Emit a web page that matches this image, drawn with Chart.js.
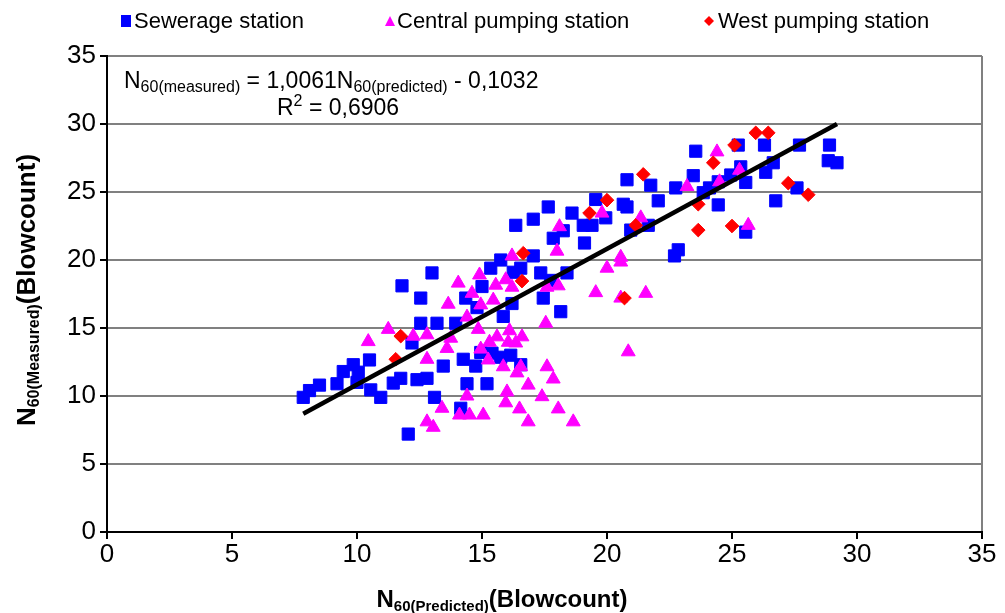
<!DOCTYPE html>
<html>
<head>
<meta charset="utf-8">
<script src="https://cdn.jsdelivr.net/npm/chart.js@4.4.0/dist/chart.umd.min.js"></script>
<style>
  html, body { margin: 0; padding: 0; background: #fff; }
</style>
</head>
<body>
<canvas id="grafico" width="1005" height="613"></canvas>
<script>
const sewerage = [
  [7.85, 9.9], [8.1, 10.4], [8.5, 10.8], [9.2, 10.9], [9.45, 11.8], [9.85, 12.3], [10.05, 11.75],
  [10.0, 11.0], [10.5, 12.65], [10.55, 10.45], [10.95, 9.9], [11.45, 10.95], [11.75, 11.3],
  [12.4, 11.2], [12.8, 11.3], [12.55, 15.35], [13.2, 15.35], [13.95, 15.35], [12.55, 17.2],
  [11.8, 18.1], [13.0, 19.05], [12.05, 7.2], [13.1, 9.9], [13.45, 12.2], [12.2, 13.9],
  [14.35, 17.2], [14.8, 16.5], [15.85, 15.85], [16.2, 16.8], [17.45, 17.2], [18.15, 16.2],
  [15.0, 18.05], [14.25, 12.7], [14.75, 12.2], [14.95, 13.2], [15.4, 13.15], [15.75, 12.85],
  [16.15, 13.0], [16.55, 12.3], [14.4, 10.9], [15.2, 10.9], [14.15, 9.1], [15.35, 19.4],
  [15.75, 20.0], [16.25, 19.1], [16.55, 19.4], [17.05, 20.3], [17.35, 19.05], [18.4, 19.05],
  [16.35, 22.55], [17.05, 23.0], [17.65, 23.9], [18.6, 23.45], [19.05, 22.55], [17.85, 21.6],
  [19.1, 21.25], [19.55, 24.45], [19.95, 23.1], [20.65, 24.1], [20.8, 23.9], [20.95, 22.2],
  [21.65, 22.55], [19.4, 22.55], [20.8, 25.9], [21.75, 25.5], [22.05, 24.35], [22.85, 20.75],
  [22.7, 20.3], [23.55, 28.0], [23.45, 26.2], [22.75, 25.3], [23.85, 24.95], [24.1, 25.3],
  [24.45, 25.75], [24.95, 26.25], [25.35, 26.85], [25.55, 25.7], [24.45, 24.05], [25.25, 28.45],
  [25.55, 22.05], [26.3, 28.45], [26.65, 27.15], [26.35, 26.45], [27.6, 25.3], [26.75, 24.35],
  [27.7, 28.45], [28.9, 28.45], [28.85, 27.3], [29.2, 27.15], [18.25, 22.15], [17.75, 18.5]
];

const central = [
  [10.45, 14.0], [11.25, 14.9], [12.25, 14.4], [12.8, 14.5], [12.8, 12.7], [13.4, 9.1],
  [12.8, 8.1], [13.05, 7.7], [14.9, 18.9], [14.05, 18.3], [14.6, 17.55], [13.65, 16.75],
  [14.95, 16.7], [15.45, 17.05], [14.4, 15.8], [14.85, 14.9], [13.6, 13.5], [14.4, 10.0],
  [14.1, 8.6], [14.5, 8.6], [15.05, 8.6], [15.3, 13.95], [16.1, 14.8], [17.55, 15.35],
  [13.75, 14.25], [15.6, 14.35], [16.05, 13.95], [16.6, 14.35], [16.35, 13.9], [14.95, 13.45],
  [15.25, 12.65], [15.85, 12.15], [16.55, 12.15], [16.4, 11.7], [17.6, 12.15], [17.85, 11.25],
  [16.85, 10.8], [16.0, 10.3], [15.95, 9.5], [17.4, 9.95], [16.5, 9.05], [18.05, 9.05],
  [16.85, 8.1], [18.65, 8.1], [19.55, 17.6], [18.1, 22.45], [18.0, 20.65], [16.2, 20.3],
  [15.55, 18.15], [15.95, 18.55], [16.2, 18.0], [17.6, 18.0], [18.05, 18.1], [24.4, 27.95],
  [25.3, 26.6], [24.5, 25.75], [23.2, 25.4], [25.65, 22.55], [21.35, 23.1], [19.8, 23.45],
  [20.55, 20.2], [20.55, 19.85], [20.0, 19.4], [20.55, 17.2], [21.55, 17.55], [20.85, 13.25]
];

const west = [
  [11.75, 14.4], [11.55, 12.7], [16.65, 20.5], [16.6, 18.45], [19.3, 23.45], [25.1, 28.45],
  [24.25, 27.15], [21.45, 26.3], [20.0, 24.4], [21.15, 22.55], [23.65, 24.1], [23.65, 22.2],
  [25.0, 22.5], [20.7, 17.2], [25.95, 29.35], [26.45, 29.35], [27.25, 25.65], [28.05, 24.8]
];

const tendencia = [[7.85, 8.7], [29.2, 30.0]];

const nomesSeries = ['Sewerage station', 'Central pumping station', 'West pumping station'];
const coresSeries = ['#0000ff', '#ff00ff', '#ff0000'];

const FONTE = '"Liberation Sans", Arial, sans-serif';

function paraPontos(lista) {
  return lista.map(p => ({ x: p[0], y: p[1] }));
}

function textoComIndice(ctx, partes, x, y, alinhar) {
  let total = 0;
  partes.forEach(p => { ctx.font = p.f; total += ctx.measureText(p.t).width; });
  let cx = alinhar === 'center' ? x - total / 2 : x;
  ctx.textAlign = 'left';
  ctx.textBaseline = 'alphabetic';
  partes.forEach(p => {
    ctx.font = p.f;
    ctx.fillText(p.t, cx, y + (p.dy || 0));
    cx += ctx.measureText(p.t).width;
  });
}

function marcador(ctx, tipo, x, y, cor) {
  ctx.fillStyle = cor;
  ctx.beginPath();
  if (tipo === 'rect') {
    ctx.rect(x - 5, y - 6, 10, 12);
  } else if (tipo === 'triangle') {
    ctx.moveTo(x, y - 5);
    ctx.lineTo(x + 5, y + 5);
    ctx.lineTo(x - 5, y + 5);
  } else {
    ctx.moveTo(x, y - 5);
    ctx.lineTo(x + 5, y);
    ctx.lineTo(x, y + 5);
    ctx.lineTo(x - 5, y);
  }
  ctx.closePath();
  ctx.fill();
}

const textosExtras = {
  id: 'textosExtras',
  afterDraw(chart) {
    const ctx = chart.ctx;
    ctx.save();

    // legenda
    const tipos = ['rect', 'triangle', 'rectRot'];
    const posMarcador = [126, 390, 709];
    const posTexto = [134, 397, 718];
    for (let i = 0; i < 3; i++) {
      marcador(ctx, tipos[i], posMarcador[i], 21, coresSeries[i]);
      ctx.fillStyle = '#000';
      ctx.font = '22px ' + FONTE;
      ctx.textAlign = 'left';
      ctx.textBaseline = 'middle';
      ctx.fillText(nomesSeries[i], posTexto[i], 22);
    }

    // equacao
    ctx.fillStyle = '#000';
    const f = '23px ' + FONTE;
    const fs = '16px ' + FONTE;
    textoComIndice(ctx, [
      { t: 'N', f: f }, { t: '60(measured)', f: fs, dy: 4 },
      { t: ' = 1,0061N', f: f }, { t: '60(predicted)', f: fs, dy: 4 },
      { t: ' - 0,1032', f: f }
    ], 124, 88);
    textoComIndice(ctx, [
      { t: 'R', f: f }, { t: '2', f: fs, dy: -9 }, { t: ' = 0,6906', f: f }
    ], 277, 115);

    // titulo eixo x
    textoComIndice(ctx, [
      { t: 'N', f: 'bold 24px ' + FONTE }, { t: '60(Predicted)', f: 'bold 15px ' + FONTE, dy: 4 },
      { t: '(Blowcount)', f: 'bold 24px ' + FONTE }
    ], 502, 607, 'center');

    // titulo eixo y
    ctx.translate(35, 290);
    ctx.rotate(-Math.PI / 2);
    textoComIndice(ctx, [
      { t: 'N', f: 'bold 26px ' + FONTE }, { t: '60(Measured)', f: 'bold 16px ' + FONTE, dy: 4 },
      { t: '(Blowcount)', f: 'bold 26px ' + FONTE }
    ], 0, 0, 'center');

    ctx.restore();
  }
};

const ctxGrafico = document.getElementById('grafico').getContext('2d');

new Chart(ctxGrafico, {
  type: 'scatter',
  data: {
    datasets: [
      {
        label: 'tendencia',
        data: paraPontos(tendencia),
        showLine: true,
        borderColor: '#000',
        borderWidth: 4.5,
        pointRadius: 0,
        fill: false,
        order: 0
      },
      {
        label: nomesSeries[2],
        data: paraPontos(west),
        pointStyle: 'rectRot',
        pointRadius: 6.8,
        backgroundColor: coresSeries[2],
        borderColor: coresSeries[2],
        borderWidth: 1,
        order: 1
      },
      {
        label: nomesSeries[1],
        data: paraPontos(central),
        pointStyle: 'triangle',
        pointRadius: 8,
        backgroundColor: coresSeries[1],
        borderColor: coresSeries[1],
        borderWidth: 1,
        order: 2
      },
      {
        label: nomesSeries[0],
        data: paraPontos(sewerage),
        pointStyle: 'rect',
        pointRadius: 8.6,
        backgroundColor: coresSeries[0],
        borderColor: coresSeries[0],
        borderWidth: 1,
        order: 3
      }
    ]
  },
  options: {
    responsive: false,
    animation: false,
    layout: {
      padding: { top: 56, right: 23, left: 0, bottom: 0 }
    },
    plugins: {
      legend: { display: false },
      tooltip: { enabled: false }
    },
    scales: {
      x: {
        type: 'linear',
        min: 0,
        max: 35,
        ticks: {
          stepSize: 5,
          color: '#000',
          font: { family: FONTE, size: 26 },
          padding: 0,
          maxRotation: 0
        },
        grid: {
          color: ctx => (ctx.tick && ctx.tick.value === 35) ? '#808080' : 'rgba(0,0,0,0)',
          tickColor: '#000',
          tickLength: 7,
          lineWidth: 2
        },
        border: { color: '#000', width: 2 },
        afterFit: function (escala) {
          escala.height = 81;
        }
      },
      y: {
        min: 0,
        max: 35,
        ticks: {
          stepSize: 5,
          color: '#000',
          font: { family: FONTE, size: 26 },
          padding: 4
        },
        grid: {
          color: '#808080',
          tickColor: '#000',
          tickLength: 7,
          lineWidth: 2
        },
        border: { color: '#000', width: 2 },
        afterFit: function (escala) {
          escala.width = 107;
        }
      }
    }
  },
  plugins: [textosExtras]
});
</script>
</body>
</html>
